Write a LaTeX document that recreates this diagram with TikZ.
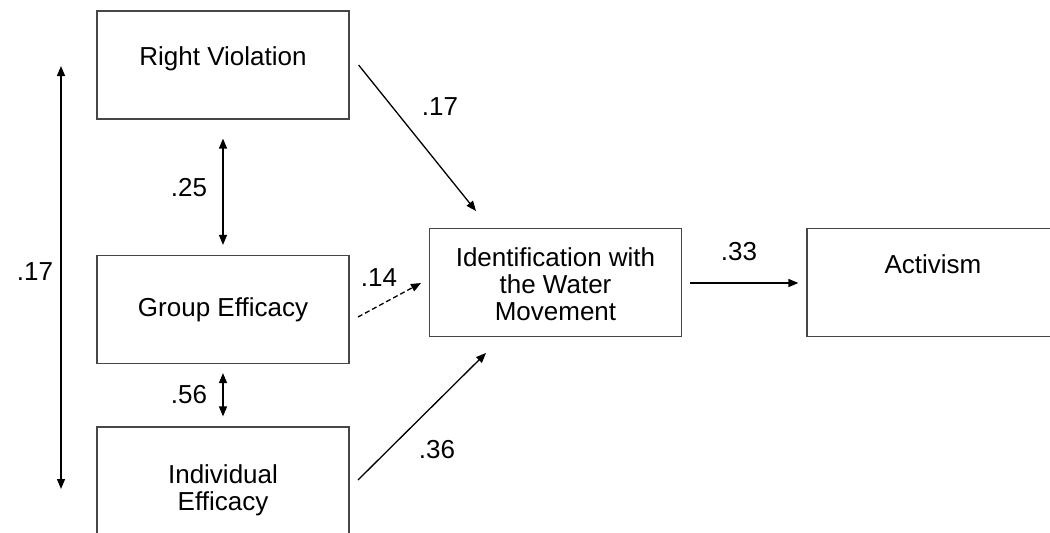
\documentclass[tikz,border=0pt]{standalone}
\usepackage{fontspec}
\setmainfont{Liberation Sans}
\usetikzlibrary{arrows.meta,calc}
\definecolor{boxgray}{RGB}{70,70,70}
\begin{document}
\begin{tikzpicture}[x=1pt,y=-1pt,
 box/.style={draw=boxgray,line width=1.2pt,minimum width=252pt,minimum height=108pt,inner sep=0pt},
 txt/.style={font=\fontsize{26}{27}\selectfont,align=center,inner sep=0pt},
 arr/.style={line width=1.3pt,-{Triangle[length=10pt,width=8pt]}},
 dbl/.style={line width=1.3pt,{Triangle[length=10pt,width=8pt]}-{Triangle[length=10pt,width=8pt]}},
]
\useasboundingbox (0,0) rectangle (1050,533);
\clip (0,0) rectangle (1050,533);
% boxes
\node[box] (rv) at (223,65) {};
\node[box] (ge) at (223,309.5) {};
\node[box] (ie) at (223,481) {};
\node[box] (id) at (555.5,282.5) {};
\node[box] (act) at (933,282.5) {};
% box texts
\node[txt] (rvt) at (223,59) {Right Violation};
\node[txt] (get) at (223,310) {Group Efficacy};
\node[txt] (iet) at (223,490) {Individual\\Efficacy};
\node[txt] (idt) at (555.5,284) {Identification with\\the Water\\Movement};
\node[txt] (actt) at (933,264.5) {Activism};
% connector end points
\coordinate (l1) at (61,66);
\coordinate (l2) at (61,489);
\coordinate (a1s) at ($(rv.east)+(9,0)$);
\coordinate (a1e) at (476,211);
\coordinate (a2s) at (358,317);
\coordinate (a2e) at (421,283);
\coordinate (a3s) at (358,480);
\coordinate (a3e) at (486,353);
\coordinate (a4s) at ($(id.east)+(8,0.5)$);
\coordinate (a4e) at ($(act.west)+(-8,0.5)$);
\coordinate (b1s) at ($(rv.south)+(0,19)$);
\coordinate (b1e) at ($(ge.north)+(0,-10)$);
\coordinate (b2s) at ($(ge.south)+(0,9)$);
\coordinate (b2e) at ($(ie.north)+(0,-10)$);
% connectors
\draw[dbl] (l1) -- (l2);
\draw[dbl] (b1s) -- (b1e);
\draw[dbl] (b2s) -- (b2e);
\draw[arr] (a1s) -- (a1e);
\draw[arr,dash pattern=on 5pt off 3pt] (a2s) -- (a2e);
\draw[arr] (a3s) -- (a3e);
\draw[arr] (a4s) -- (a4e);
% labels
\node[txt] (lbl1) at (35,272) {.17};
\node[txt] (lbl2) at (189,188) {.25};
\node[txt] (lbl3) at (189,394.5) {.56};
\node[txt] (lbl4) at (440,106.5) {.17};
\node[txt] (lbl5) at (379,278) {.14};
\node[txt] (lbl6) at (437,450) {.36};
\node[txt] (lbl7) at (739,252) {.33};
\end{tikzpicture}
\end{document}
